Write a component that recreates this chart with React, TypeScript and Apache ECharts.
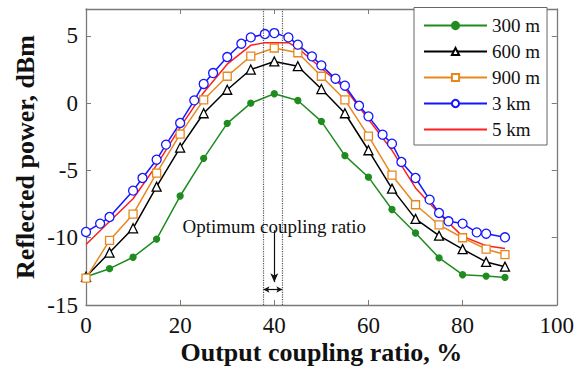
import React, { useEffect, useRef } from "react";
import * as echarts from "echarts";

const x300 = [0, 5, 10, 15, 20, 25, 30, 35, 40, 45, 50, 55, 60, 65, 70, 75, 80, 85, 89];
const y300 = [-12.9, -12.3, -11.45, -10.1, -6.9, -4.1, -1.5, 0.0, 0.7, 0.2, -1.35, -3.9, -5.5, -7.9, -9.65, -11.5, -12.75, -12.85, -12.95];
const y600 = [-12.9, -11.1, -9.3, -6.2, -3.3, -0.75, 1.0, 2.5, 3.1, 2.75, 1.05, -0.75, -3.5, -6.35, -8.6, -9.85, -10.85, -11.8, -12.15];
const y900 = [-13.0, -10.2, -8.25, -5.2, -2.3, 0.25, 2.0, 3.5, 4.1, 3.75, 2.0, 0.25, -2.45, -5.35, -7.55, -9.05, -10.0, -10.85, -11.25];
const x3km = [0, 3, 5, 10, 12, 15, 17, 20, 23, 25, 27, 30, 33, 35, 38, 40, 43, 45, 48, 50, 53, 55, 58, 60, 63, 65, 67, 70, 73, 75, 77, 80, 83, 85, 89];
const y3km = [-9.57, -8.95, -8.46, -6.5, -5.56, -4.2, -3.08, -1.47, 0.21, 1.43, 2.24, 3.43, 4.42, 4.89, 5.14, 5.21, 4.89, 4.35, 3.48, 2.81, 1.82, 1.3, -0.19, -0.98, -2.34, -3.01, -4.37, -5.56, -7.17, -8.16, -8.78, -8.95, -9.6, -9.7, -9.97];
const x5km = [0, 5, 10, 15, 20, 25, 30, 35, 38, 40, 43, 45, 50, 55, 60, 65, 70, 75, 80, 85, 89];
const y5km = [-10.5, -8.8, -7.1, -4.6, -1.8, 0.8, 2.9, 4.3, 4.5, 4.5, 4.5, 4.1, 2.6, 1.1, -1.2, -3.5, -6.3, -8.2, -9.9, -10.6, -10.8];

const seriesNames = ["300 m", "600 m", "900 m", "3 km", "5 km"];
const xTicks = [0, 20, 40, 60, 80, 100];
const yTicks = [-15, -10, -5, 0, 5];
const optimumBounds = [37.7, 41.7];
const optimumX = 40;
const annotationText = "Optimum coupling ratio";
const annotationY = -9.15;
const arrowTopY = -9.45;
const arrowBottomY = -13.3;
const doubleArrowY = -13.85;
const xTitle = "Output coupling ratio, %";
const yTitle = "Reflected power, dBm";

const zip = (xs: number[], ys: number[]) => xs.map((x, i) => [x, ys[i]]);

const SERIF = "Liberation Serif";
const AXIS_COLOR = "#7a7a7a";

export default function App() {
  const ref = useRef<HTMLDivElement>(null);
  useEffect(() => {
    if (!ref.current) return;
    const chart = echarts.init(ref.current, undefined, { renderer: "svg" });
    const mkLine = (name: string, xs: number[], ys: number[], color: string, symbol: string, size: number, filled: boolean, z = 2) => ({
      name,
      type: "line",
      data: zip(xs, ys),
      z,
      lineStyle: { color, width: 1.5 },
      itemStyle: { color: filled ? color : "#fff", borderColor: color, borderWidth: 1.3 },
      symbol,
      symbolSize: size,
      showSymbol: symbol !== "none",
      emphasis: { disabled: true },
    });
    const axisCommon = {
      type: "value",
      axisLine: { show: true, onZero: false, lineStyle: { color: AXIS_COLOR, width: 1.3 } },
      axisTick: { show: true, inside: true, length: 5, lineStyle: { color: AXIS_COLOR, width: 1 } },
      splitLine: { show: false },
    };
    chart.setOption({
      animation: false,
      textStyle: { fontFamily: SERIF },
      grid: { left: 86, right: 20, top: 9, bottom: 65, containLabel: false },
      xAxis: [
        {
          ...axisCommon,
          min: xTicks[0],
          max: xTicks[xTicks.length - 1],
          interval: 20,
          position: "bottom",
          axisLabel: { show: true, margin: 9, fontFamily: SERIF, fontSize: 23, color: "#111" },
        },
        {
          ...axisCommon,
          min: xTicks[0],
          max: xTicks[xTicks.length - 1],
          interval: 20,
          position: "top",
          axisLabel: { show: false },
        },
      ],
      yAxis: [
        {
          ...axisCommon,
          min: yTicks[0],
          max: 7,
          interval: 5,
          position: "left",
          axisLabel: { show: true, margin: 8, fontFamily: SERIF, fontSize: 23, color: "#111", showMaxLabel: false },
        },
        {
          ...axisCommon,
          min: yTicks[0],
          max: 7,
          interval: 5,
          position: "right",
          axisLabel: { show: false },
        },
      ],
      legend: {
        show: true,
        orient: "vertical",
        left: 414,
        top: 7.5,
        padding: [8.5, 7, 6, 9],
        itemWidth: 63,
        itemHeight: 9,
        itemGap: 7,
        backgroundColor: "#fff",
        borderColor: "#666",
        borderWidth: 1,
        borderRadius: 0,
        data: seriesNames.map((n, i) =>
          i === 4 ? { name: n, itemStyle: { opacity: 0, borderWidth: 0 } } : { name: n }
        ),
        textStyle: { fontFamily: SERIF, fontSize: 19, color: "#111" },
        selectedMode: false,
        z: 10,
      },
      series: [
        mkLine(seriesNames[0], x300, y300, "#1f8c1f", "circle", 6, true, 3),
        mkLine(seriesNames[1], x300, y600, "#000000", "triangle", 9, false, 3),
        mkLine(seriesNames[2], x300, y900, "#e8871e", "rect", 8, false, 3),
        mkLine(seriesNames[3], x3km, y3km, "#1515ff", "circle", 9, false, 4),
        {
          ...mkLine(seriesNames[4], x5km, y5km, "#ff1f1f", "none", 0, true, 2),
          markLine: {
            silent: true,
            symbol: ["none", "none"],
            label: { show: false },
            lineStyle: { color: "#555", type: "dotted", width: 1.2 },
            data: [
              { xAxis: optimumBounds[0] },
              { xAxis: optimumBounds[1] },
              [
                { coord: [optimumX, arrowTopY], symbol: "none" },
                { coord: [optimumX, arrowBottomY], symbol: "arrow", symbolSize: [6, 9], lineStyle: { type: "solid", color: "#111", width: 1.2 } },
              ],
              [
                { coord: [optimumBounds[0], doubleArrowY], symbol: "arrow", symbolSize: [5, 6], lineStyle: { type: "solid", color: "#111", width: 1.2 } },
                { coord: [optimumBounds[1], doubleArrowY], symbol: "arrow", symbolSize: [5, 6], lineStyle: { type: "solid", color: "#111", width: 1.2 } },
              ],
            ],
          },
          markPoint: {
            silent: true,
            symbol: "circle",
            symbolSize: 0,
            data: [
              {
                coord: [optimumX, annotationY],
                label: {
                  show: true,
                  position: "inside",
                  formatter: annotationText,
                  fontFamily: SERIF,
                  fontSize: 19,
                  color: "#111",
                },
              },
            ],
          },
        },
      ],
    });
    const left = chart.convertToPixel({ xAxisIndex: 0 }, xTicks[0]) as number;
    const right = chart.convertToPixel({ xAxisIndex: 0 }, xTicks[xTicks.length - 1]) as number;
    const top = chart.convertToPixel({ yAxisIndex: 0 }, 7) as number;
    const bottom = chart.convertToPixel({ yAxisIndex: 0 }, yTicks[0]) as number;
    chart.setOption({
      graphic: [
        {
          type: "text",
          x: (left + right) / 2,
          y: 352,
          style: {
            text: xTitle,
            fontFamily: SERIF,
            fontSize: 26,
            fontWeight: "bold",
            fill: "#111",
            align: "center",
            verticalAlign: "middle",
          },
        },
        {
          type: "text",
          x: 25,
          y: (top + bottom) / 2,
          rotation: Math.PI / 2,
          style: {
            text: yTitle,
            fontFamily: SERIF,
            fontSize: 26,
            fontWeight: "bold",
            fill: "#111",
            align: "center",
            verticalAlign: "middle",
          },
        },
      ],
    });
    return () => chart.dispose();
  }, []);
  return (
    <div
      ref={ref}
      style={{ position: "absolute", left: 0, top: 0, width: 577, height: 370, background: "#fff" }}
    />
  );
}
